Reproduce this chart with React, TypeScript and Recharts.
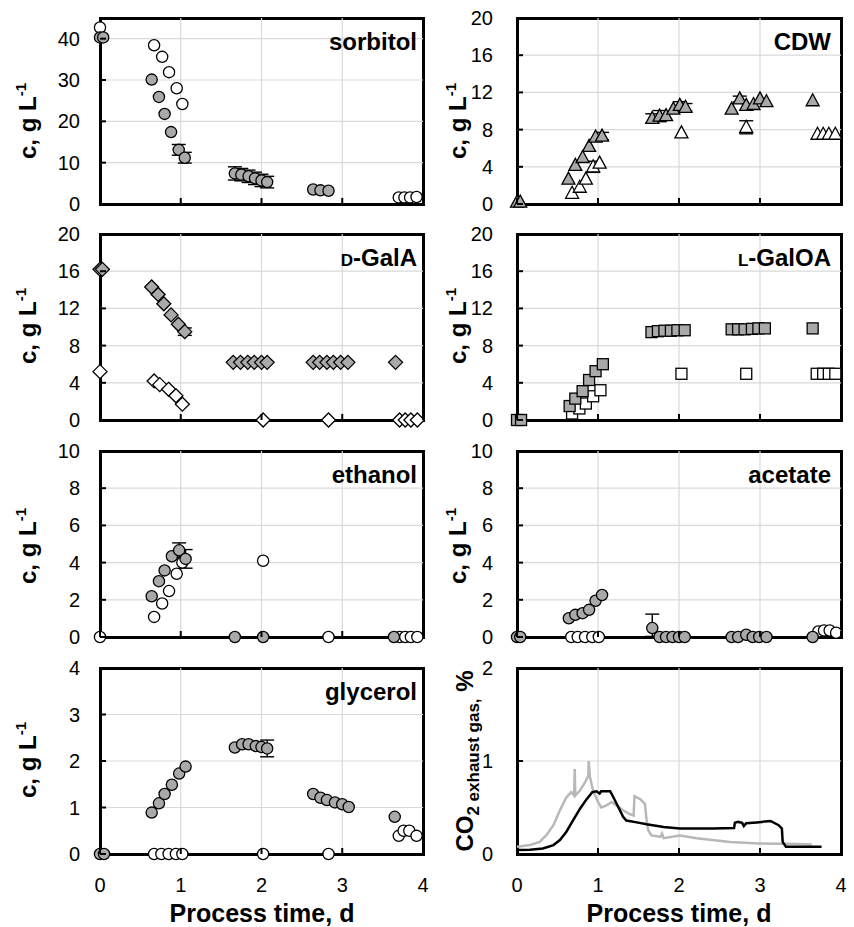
import React from "react";
import {
  ScatterChart,
  Scatter,
  LineChart,
  Line,
  XAxis,
  YAxis,
  CartesianGrid,
  ErrorBar,
} from "recharts";

const FONT = '"Liberation Sans Narrow", "Arial Narrow", "Liberation Sans", Arial, sans-serif';
const GRAY = "#a9a9a9";
const GRID = "#d9d9d9";

// [time d, conc g/L, error?]
type Pt = [number, number, (number | [number, number])?];

const X_TICKS = [0, 1, 2, 3, 4];
const TICKS_45 = [0, 10, 20, 30, 40];
const TICKS_20 = [0, 4, 8, 12, 16, 20];
const TICKS_10 = [0, 2, 4, 6, 8, 10];
const TICKS_4 = [0, 1, 2, 3, 4];
const TICKS_CO2 = [0, 1, 2];

const sorbitolWhite: Pt[] = [
  [0, 42.7], [0.67, 38.4], [0.77, 35.6], [0.855, 31.9], [0.95, 28.0], [1.02, 24.2],
  [3.7, 1.6], [3.77, 1.6], [3.84, 1.6], [3.92, 1.7],
];
const sorbitolGray: Pt[] = [
  [0, 40.3], [0.04, 40.3], [0.64, 30.1], [0.73, 25.9], [0.8, 21.8], [0.88, 17.4],
  [0.975, 13.1, 1.3], [1.05, 11.2, 1.3],
  [1.67, 7.4, 1.6], [1.75, 7.1, 1.5], [1.84, 6.7, 1.5], [1.92, 6.2, 1.5], [2.0, 5.7, 1.5], [2.07, 5.3, 1.4],
  [2.64, 3.5], [2.73, 3.3], [2.83, 3.2],
];

const cdwWhite: Pt[] = [
  [0.68, 1.15], [0.775, 1.8], [0.85, 2.67], [0.94, 4.0, 0.6], [1.02, 4.4],
  [2.03, 7.65], [2.83, 8.25, 0.7], [3.71, 7.5], [3.78, 7.5], [3.85, 7.5], [3.93, 7.5],
];
const cdwGray: Pt[] = [
  [0, 0.2], [0.04, 0.2], [0.635, 2.67], [0.72, 4.15], [0.81, 5.0], [0.89, 6.2], [0.97, 7.2], [1.05, 7.3, 0.4],
  [1.67, 9.2, 0.5], [1.76, 9.45, 0.6], [1.84, 9.5], [1.93, 10.2], [2.01, 10.6, 0.4], [2.08, 10.4, 0.4],
  [2.65, 10.2], [2.75, 11.3, 0.3], [2.83, 10.6], [2.92, 10.7], [3.0, 11.3], [3.08, 11.0], [3.65, 11.1],
];

const galaWhite: Pt[] = [
  [0, 5.2], [0.67, 4.2], [0.74, 3.8], [0.85, 3.3], [0.94, 2.6], [1.02, 1.7],
  [2.02, 0], [2.83, 0], [3.71, 0], [3.78, 0], [3.85, 0], [3.93, 0],
];
const galaGray: Pt[] = [
  [0, 16.2], [0.03, 16.2], [0.64, 14.3], [0.72, 13.5], [0.79, 12.5], [0.88, 11.3], [0.97, 10.3], [1.05, 9.5, 0.4],
  [1.65, 6.2], [1.74, 6.2], [1.83, 6.2], [1.91, 6.2], [2.0, 6.2], [2.07, 6.2],
  [2.64, 6.2], [2.72, 6.2], [2.81, 6.2], [2.89, 6.2], [2.98, 6.2], [3.07, 6.2], [3.66, 6.2],
];

const galoaWhite: Pt[] = [
  [0.68, 0.7], [0.77, 1.24], [0.85, 1.77], [0.94, 2.55], [1.03, 3.2],
  [2.03, 4.97], [2.83, 4.97], [3.7, 4.97], [3.78, 4.97], [3.85, 4.97], [3.93, 4.97],
];
const galoaGray: Pt[] = [
  [0, 0], [0.05, 0], [0.65, 1.5], [0.72, 2.3], [0.81, 3.1], [0.89, 4.3], [0.97, 5.25], [1.06, 6.0],
  [1.66, 9.45], [1.74, 9.55], [1.82, 9.6], [1.9, 9.6], [1.98, 9.65], [2.07, 9.65],
  [2.65, 9.75], [2.73, 9.75], [2.81, 9.75], [2.9, 9.8], [2.98, 9.85], [3.06, 9.85], [3.65, 9.85],
];

const ethanolWhite: Pt[] = [
  [0, 0], [0.67, 1.08], [0.77, 1.8], [0.855, 2.47], [0.95, 3.4], [1.02, 4.0],
  [2.02, 4.1], [2.83, 0], [3.71, 0], [3.78, 0], [3.85, 0], [3.93, 0],
];
const ethanolGray: Pt[] = [
  [0.64, 2.19], [0.73, 3.0], [0.8, 3.58], [0.89, 4.34], [0.98, 4.66, 0.4], [1.06, 4.2, 0.5],
  [1.67, 0], [2.02, 0], [3.64, 0],
];

const acetateWhite: Pt[] = [
  [0.67, 0], [0.75, 0], [0.84, 0], [0.93, 0], [1.01, 0],
  [3.72, 0.3], [3.79, 0.35], [3.86, 0.35], [3.94, 0.23],
];
const acetateGray: Pt[] = [
  [0, 0], [0.04, 0], [0.64, 1.01], [0.72, 1.19], [0.81, 1.28], [0.89, 1.46], [0.97, 1.95], [1.05, 2.26],
  [1.67, 0.48, [0.45, 0.75]], [1.76, 0], [1.84, 0], [1.92, 0], [2.0, 0], [2.07, 0],
  [2.65, 0], [2.73, 0], [2.83, 0.12], [2.91, 0], [2.99, 0], [3.08, 0], [3.65, 0],
];

const glycerolWhite: Pt[] = [
  [0.67, 0], [0.76, 0], [0.85, 0], [0.94, 0], [1.02, 0], [2.02, 0], [2.83, 0],
  [3.7, 0.39], [3.76, 0.5], [3.83, 0.5], [3.92, 0.39],
];
const glycerolGray: Pt[] = [
  [0, 0], [0.05, 0], [0.64, 0.89], [0.73, 1.09], [0.8, 1.29], [0.89, 1.49], [0.98, 1.73], [1.06, 1.88],
  [1.67, 2.29], [1.76, 2.36], [1.84, 2.36], [1.93, 2.32], [2.0, 2.3], [2.07, 2.27, 0.18],
  [2.64, 1.29], [2.73, 1.21], [2.81, 1.16], [2.91, 1.11], [3.0, 1.07], [3.08, 1.01], [3.65, 0.8],
];

// CO2 in exhaust gas, % (two reactors)
const co2Black: [number, number][] = [
  [0, 0.043], [0.16, 0.046], [0.32, 0.06], [0.45, 0.096], [0.53, 0.15], [0.61, 0.24], [0.69, 0.36],
  [0.78, 0.49], [0.86, 0.59], [0.93, 0.665], [0.98, 0.675], [1.02, 0.65], [1.04, 0.675], [1.15, 0.675],
  [1.19, 0.61], [1.25, 0.505], [1.31, 0.4], [1.35, 0.36], [1.48, 0.34], [1.6, 0.32], [1.81, 0.29],
  [2.01, 0.275], [2.22, 0.275], [2.42, 0.275], [2.68, 0.28], [2.69, 0.335], [2.73, 0.345], [2.78, 0.335],
  [2.8, 0.3], [2.83, 0.33], [2.96, 0.34], [3.13, 0.355], [3.23, 0.31], [3.27, 0.275], [3.28, 0.13],
  [3.32, 0.078], [3.39, 0.078], [3.76, 0.078],
];
const co2Gray: [number, number][] = [
  [0, 0.078], [0.16, 0.096], [0.28, 0.13], [0.36, 0.2], [0.45, 0.31], [0.53, 0.47], [0.61, 0.61],
  [0.67, 0.665], [0.705, 0.63], [0.713, 0.915], [0.72, 0.63], [0.775, 0.68], [0.84, 0.77], [0.88, 0.84],
  [0.885, 1.0], [0.9, 0.83], [0.94, 0.68], [1.0, 0.56], [1.04, 0.5], [1.1, 0.52], [1.17, 0.56],
  [1.23, 0.52], [1.31, 0.47], [1.39, 0.43], [1.44, 0.415], [1.45, 0.62], [1.52, 0.59], [1.58, 0.54],
  [1.6, 0.36], [1.62, 0.255], [1.66, 0.2], [1.77, 0.185], [1.79, 0.22], [1.81, 0.17], [2.01, 0.2],
  [2.22, 0.17], [2.63, 0.13], [2.98, 0.114], [3.46, 0.107], [3.64, 0.103],
];

const COLS = [
  { chartLeft: 0, plotLeft: 100, plotW: 323, gap: 20, labelX: 36, titleRight: 417, xLabel: 262 },
  { chartLeft: 430, plotLeft: 517, plotW: 324, gap: 24, labelX: 466, titleRight: 831, xLabel: 679 },
];
const ROWS = [18, 234, 451, 668];
const LABEL_CY = [121, 326, 546, 760];
const PLOT_H = 186;

type Kind = "circle" | "diamond" | "square" | "triangle";

const PANELS: {
  col: number; row: number; title: string; small?: string; yMax: number; yTicks: number[];
  kind: Kind; white: Pt[]; gray: Pt[];
}[] = [
  { col: 0, row: 0, title: "sorbitol", yMax: 45, yTicks: TICKS_45, kind: "circle", white: sorbitolWhite, gray: sorbitolGray },
  { col: 1, row: 0, title: "CDW", yMax: 20, yTicks: TICKS_20, kind: "triangle", white: cdwWhite, gray: cdwGray },
  { col: 0, row: 1, title: "-GalA", small: "D", yMax: 20, yTicks: TICKS_20, kind: "diamond", white: galaWhite, gray: galaGray },
  { col: 1, row: 1, title: "-GalOA", small: "L", yMax: 20, yTicks: TICKS_20, kind: "square", white: galoaWhite, gray: galoaGray },
  { col: 0, row: 2, title: "ethanol", yMax: 10, yTicks: TICKS_10, kind: "circle", white: ethanolWhite, gray: ethanolGray },
  { col: 1, row: 2, title: "acetate", yMax: 10, yTicks: TICKS_10, kind: "circle", white: acetateWhite, gray: acetateGray },
  { col: 0, row: 3, title: "glycerol", yMax: 4, yTicks: TICKS_4, kind: "circle", white: glycerolWhite, gray: glycerolGray },
];

function Marker({ cx, cy, kind, fill }: { cx: number; cy: number; kind: Kind; fill: string }) {
  const s = { fill, stroke: "#000", strokeWidth: 1.3 };
  if (cx == null || cy == null) return null;
  if (kind === "circle") return <circle cx={cx} cy={cy} r={5.6} {...s} />;
  if (kind === "diamond")
    return <polygon points={`${cx},${cy - 7} ${cx + 7},${cy} ${cx},${cy + 7} ${cx - 7},${cy}`} {...s} />;
  if (kind === "square") return <rect x={cx - 5.5} y={cy - 5.5} width={11} height={11} {...s} />;
  return <polygon points={`${cx},${cy - 7} ${cx + 6.5},${cy + 5} ${cx - 6.5},${cy + 5}`} {...s} />;
}

const yTick = (gap: number) => (p: any) => (
  <g>
    <line x1={p.x} x2={p.x + 6} y1={p.y} y2={p.y} stroke="#000" strokeWidth={2} />
    <text x={p.x - gap} y={p.y} dy={7} textAnchor="end" fontSize={20} fontFamily={FONT} fill="#000">
      {p.payload.value}
    </text>
  </g>
);

const xTick = (labels: boolean) => (p: any) => (
  <g>
    <line x1={p.x} x2={p.x} y1={p.y} y2={p.y - 6} stroke="#000" strokeWidth={2} />
    {labels && (
      <text x={p.x} y={p.y + 38} textAnchor="middle" fontSize={20} fontFamily={FONT} fill="#000">
        {p.payload.value}
      </text>
    )}
  </g>
);

const toRows = (pts: Pt[]) => pts.map(([x, y, e]) => ({ x, y, e }));

function Frame({ col, row }: { col: number; row: number }) {
  const c = COLS[col];
  return (
    <div
      style={{
        position: "absolute",
        left: c.plotLeft - 1.5,
        top: ROWS[row] - 1.5,
        width: c.plotW + 3,
        height: PLOT_H + 3,
        border: "3px solid #000",
        boxSizing: "border-box",
      }}
    />
  );
}

function ScatterPanel({ p }: { p: (typeof PANELS)[number] }) {
  const c = COLS[p.col];
  const yw = c.plotLeft - c.chartLeft;
  const bottomRow = p.row === 3;
  const xh = bottomRow ? 66 : 14;
  const inner = p.yTicks.filter((v) => v > 0 && v < p.yMax);
  const series = [
    { data: toRows(p.white), fill: "#fff" },
    { data: toRows(p.gray), fill: GRAY },
  ];
  return (
    <div style={{ position: "absolute", left: c.chartLeft, top: ROWS[p.row] - 10 }}>
      <ScatterChart width={yw + c.plotW + 10} height={10 + PLOT_H + xh} margin={{ top: 10, right: 10, bottom: 0, left: 0 }}>
        <CartesianGrid stroke={GRID} strokeWidth={1.2} horizontalValues={inner} verticalValues={[1, 2, 3]} />
        <XAxis type="number" dataKey="x" domain={[0, 4]} ticks={X_TICKS} interval={0} height={xh}
          axisLine={false} tickLine={false} tickSize={0} tickMargin={0} tick={xTick(bottomRow)} />
        <YAxis type="number" dataKey="y" domain={[0, p.yMax]} ticks={p.yTicks} interval={0} width={yw}
          axisLine={false} tickLine={false} tickSize={0} tickMargin={0} tick={yTick(c.gap)} />
        {series.map((s, i) => (
          <Scatter key={i} data={s.data} isAnimationActive={false}
            shape={(sp: any) => <Marker cx={sp.cx} cy={sp.cy} kind={p.kind} fill={s.fill} />}>
            {s.data.some((d) => d.e != null) && (
              <ErrorBar dataKey="e" direction="y" width={7} stroke="#000" strokeWidth={1.4} />
            )}
          </Scatter>
        ))}
      </ScatterChart>
    </div>
  );
}

function Co2Panel() {
  const c = COLS[1];
  const yw = c.plotLeft - c.chartLeft;
  const xh = 66;
  const black = co2Black.map(([t, v]) => ({ t, v }));
  const gray = co2Gray.map(([t, v]) => ({ t, v }));
  return (
    <div style={{ position: "absolute", left: c.chartLeft, top: ROWS[3] - 10 }}>
      <LineChart width={yw + c.plotW + 10} height={10 + PLOT_H + xh} margin={{ top: 10, right: 10, bottom: 0, left: 0 }}>
        <CartesianGrid stroke={GRID} strokeWidth={1.2} horizontalValues={[1]} verticalValues={[1, 2, 3]} />
        <XAxis type="number" dataKey="t" domain={[0, 4]} ticks={X_TICKS} interval={0} height={xh}
          axisLine={false} tickLine={false} tickSize={0} tickMargin={0} tick={xTick(true)} allowDuplicatedCategory={false} />
        <YAxis type="number" dataKey="v" domain={[0, 2]} ticks={TICKS_CO2} interval={0} width={yw}
          axisLine={false} tickLine={false} tickSize={0} tickMargin={0} tick={yTick(c.gap)} />
        <Line data={gray} dataKey="v" type="linear" stroke="#b8b8b8" strokeWidth={2.5} dot={false} isAnimationActive={false} />
        <Line data={black} dataKey="v" type="linear" stroke="#000" strokeWidth={2.5} dot={false} isAnimationActive={false} />
      </LineChart>
    </div>
  );
}

function Labels() {
  const bold = { fontFamily: FONT, fontWeight: 700, fill: "#000" } as const;
  return (
    <svg width={854} height={927} style={{ position: "absolute", left: 0, top: 0, pointerEvents: "none" }}>
      {PANELS.map((p, i) => {
        const c = COLS[p.col];
        return (
          <g key={i}>
            <text x={c.titleRight} y={ROWS[p.row] + 32} textAnchor="end" fontSize={24} {...bold}>
              {p.small && <tspan fontSize={17}>{p.small}</tspan>}
              {p.title}
            </text>
            <text transform={`translate(${c.labelX},${LABEL_CY[p.row]}) rotate(-90)`} textAnchor="middle" fontSize={24} {...bold}>
              c, g L<tspan fontSize={15} dy={-10}>-1</tspan>
            </text>
          </g>
        );
      })}
      <text transform={`translate(473,761) rotate(-90)`} textAnchor="middle" fontSize={24} {...bold}>
        CO<tspan fontSize={17} dy={6}>2 exhaust gas,</tspan>
        <tspan dy={-6}> %</tspan>
      </text>
      <text x={COLS[0].xLabel} y={922} textAnchor="middle" fontSize={25} {...bold}>Process time, d</text>
      <text x={COLS[1].xLabel} y={922} textAnchor="middle" fontSize={25} {...bold}>Process time, d</text>
    </svg>
  );
}

export default function App() {
  return (
    <div style={{ position: "absolute", left: 0, top: 0, width: 854, height: 927, background: "#fff", overflow: "hidden" }}>
      {PANELS.map((p, i) => <Frame key={"f" + i} col={p.col} row={p.row} />)}
      <Frame col={1} row={3} />
      {PANELS.map((p, i) => <ScatterPanel key={i} p={p} />)}
      <Co2Panel />
      <Labels />
    </div>
  );
}
